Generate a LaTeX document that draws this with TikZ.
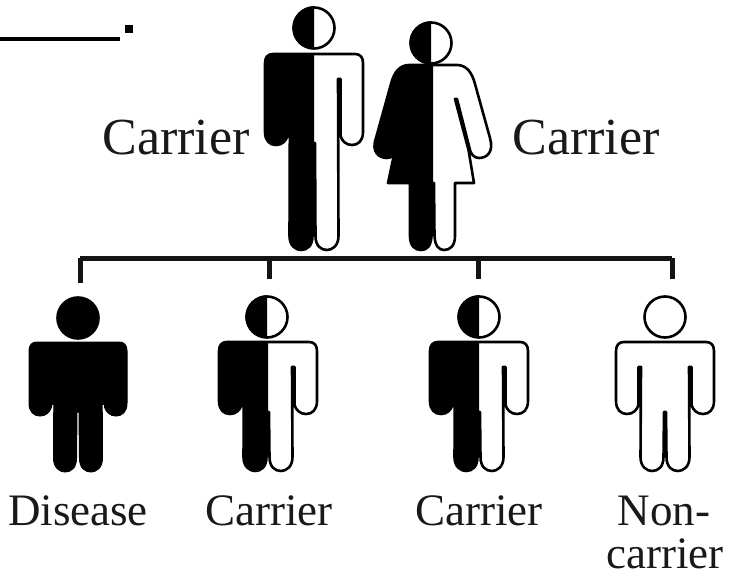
\documentclass[tikz,border=0pt]{standalone}
\usepackage{fontspec}
\setmainfont{Liberation Serif}
\newcommand\malebody[6]{% cx, shoulder, armpit, hand bottom, crotch, foot
 (#1,#2) -- (#1+41,#2) .. controls (#1+46,#2) and (#1+49,#2+3) .. (#1+49,#2+9)
 -- (#1+49,#4-13) .. controls (#1+49,#4-4) and (#1+44,#4) .. (#1+38,#4)
 .. controls (#1+32,#4) and (#1+28,#4-4) .. (#1+26.5,#4-9)
 -- (#1+26.5,#3) -- (#1+24,#3) -- (#1+24.5,#6-14)
 .. controls (#1+24.5,#6-4) and (#1+18,#6) .. (#1+13,#6)
 .. controls (#1+7,#6) and (#1+1.5,#6-4) .. (#1+1.5,#6-14)
 -- (#1+1,#5) -- (#1-1,#5)
 -- (#1-1.5,#6-14) .. controls (#1-1.5,#6-4) and (#1-7,#6) .. (#1-13,#6)
 .. controls (#1-18,#6) and (#1-24.5,#6-4) .. (#1-24.5,#6-14)
 -- (#1-24,#3) -- (#1-26.5,#3) -- (#1-26.5,#4-9)
 .. controls (#1-28,#4-4) and (#1-32,#4) .. (#1-38,#4)
 .. controls (#1-44,#4) and (#1-49,#4-4) .. (#1-49,#4-13)
 -- (#1-49,#2+9) .. controls (#1-49,#2+3) and (#1-46,#2) .. (#1-41,#2) -- cycle}
\newcommand\femalebody[1]{%
 (#1,65) -- (#1+24,65) .. controls (#1+33,65) and (#1+39,72) .. (#1+42,84)
 -- (#1+57,138) .. controls (#1+61,152) and (#1+54,158) .. (#1+46,158)
 .. controls (#1+41,158) and (#1+38,154) .. (#1+37,150)
 -- (#1+24,99) -- (#1+22,99) -- (#1+35.5,150)
 -- (#1+41,183) -- (#1+22,183) -- (#1+22,236)
 .. controls (#1+22,246) and (#1+17,250) .. (#1+11,250)
 .. controls (#1+6,250) and (#1+2,246) .. (#1+1.5,236)
 -- (#1+1,183) -- (#1-1,183) -- (#1-1.5,236)
 .. controls (#1-2,246) and (#1-6,250) .. (#1-12,250)
 .. controls (#1-18,250) and (#1-23,246) .. (#1-23,236)
 -- (#1-23,183) -- (#1-45,183) -- (#1-38,150)
 -- (#1-24,99) -- (#1-22,99) -- (#1-36.5,150)
 .. controls (#1-38,154) and (#1-41,158) .. (#1-46,158)
 .. controls (#1-54,158) and (#1-62,152) .. (#1-57,138)
 -- (#1-42,84) .. controls (#1-39,72) and (#1-33,65) .. (#1-24,65) -- cycle}
\tikzset{
 figline/.style={draw=black,line width=2.6pt,line join=round,fill=white},
 wire/.style={draw=black!92,line width=5pt},
 headnode/.style={circle,draw=black,line width=2.6pt,fill=white,minimum size=41pt,inner sep=0pt},
 lab/.style={inner sep=0pt,text=black!90,anchor=base},
 big/.style={font=\fontsize{52}{52}\selectfont},
 small/.style={font=\fontsize{45}{45}\selectfont},
}
\begin{document}
\begin{tikzpicture}[x=1pt,y=-1pt]
\useasboundingbox (0,0) rectangle (730,577);
% father
\begin{scope}
 \draw[figline] \malebody{314}{54}{79}{145}{143}{250};
 \clip (250,0) rectangle (314,255);
 \fill[black] \malebody{314}{54}{79}{145}{143}{250};
 \fill[black] (286,76) rectangle (292,135);
\end{scope}
\node[headnode] (father) at (314,28) {};
\fill[black] (father.north) arc[start angle=90,end angle=270,radius=21.5pt] -- cycle;
% mother
\begin{scope}
 \draw[figline] \femalebody{433};
 \clip (360,0) rectangle (433,255);
 \fill[black] \femalebody{433};
 \fill[black] (411,97) -- (396,150) -- (400,154) -- (414,100) -- cycle;
\end{scope}
\node[headnode] (mother) at (431,43) {};
\fill[black] (mother.north) arc[start angle=90,end angle=270,radius=21.5pt] -- cycle;
% children
\draw[black,line width=1pt,fill=black] \malebody{78}{342}{367}{416}{412}{472};
\fill[black] (49,365) rectangle (55,405);
\fill[black] (101,365) rectangle (107,405);
\node[headnode,fill=black] (kidA) at (78,318) {};
\begin{scope}
 \draw[figline] \malebody{268}{342}{367}{414}{412}{471};
 \clip (200,300) rectangle (268,480);
 \fill[black] \malebody{268}{342}{367}{414}{412}{471};
 \fill[black] (240,365) rectangle (246,405);
\end{scope}
\node[headnode] (kidB) at (267,317) {};
\fill[black] (kidB.north) arc[start angle=90,end angle=270,radius=21.5pt] -- cycle;
\begin{scope}
 \draw[figline] \malebody{479}{342}{367}{414}{412}{471};
 \clip (410,300) rectangle (479,480);
 \fill[black] \malebody{479}{342}{367}{414}{412}{471};
 \fill[black] (451,365) rectangle (457,405);
\end{scope}
\node[headnode] (kidC) at (479,317) {};
\fill[black] (kidC.north) arc[start angle=90,end angle=270,radius=21.5pt] -- cycle;
\draw[figline] \malebody{665}{342}{367}{414}{412}{471};
\node[headnode] (kidD) at (665,317) {};
% family bar
\coordinate (barL) at (80,258);
\coordinate (barB) at (269,258);
\coordinate (barC) at (478,258);
\coordinate (barR) at (672,258);
\coordinate (dropA) at (80,283);
\coordinate (dropB) at (269,279);
\coordinate (dropC) at (478,279);
\coordinate (dropD) at (672,279);
\draw[wire,line cap=square] (barL) -- (barR);
\draw[wire] (barL) -- (dropA);
\draw[wire] (barB) -- (dropB);
\draw[wire] (barC) -- (dropC);
\draw[wire] (barR) -- (dropD);
% stray rule and dot
\coordinate (ruleL) at (0,39.5);
\coordinate (ruleR) at (120,39.5);
\draw[black,line width=4pt] (ruleL) -- (ruleR);
\node[fill=black,minimum size=8pt,inner sep=0pt] (speck) at (129,29) {};
% labels
\node[lab,big] (lfather) at (176,155) {Carrier};
\node[lab,big] (lmother) at (586,155) {Carrier};
\node[lab,small] (lA) at (78,525) {Disease};
\node[lab,small] (lB) at (269,525) {Carrier};
\node[lab,small] (lC) at (479,525) {Carrier};
\node[lab,small] (lD) at (664,525) {Non-};
\node[lab,small] (lE) at (665,568) {carrier};
\end{tikzpicture}
\end{document}
